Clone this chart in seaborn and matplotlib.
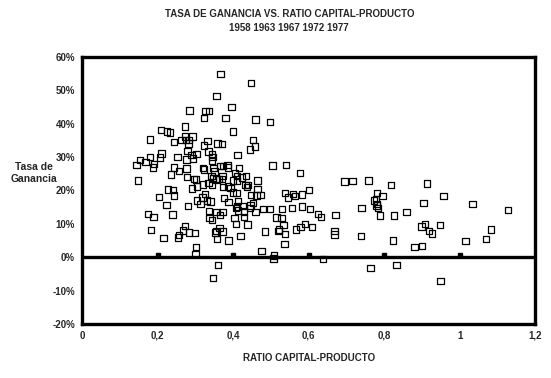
import pandas as pd
import seaborn as sns
import matplotlib.pyplot as plt

sns.set_style('white')
plt.rcParams['font.family'] = ['Liberation Sans', 'DejaVu Sans']

# datos (ratio capital-producto, tasa de ganancia en %)
ratio = [
    0.3665, 0.4467, 0.3559, 0.3956, 0.2844, 0.3268, 0.3368, 0.3223, 0.3797, 0.4592,
    0.4970, 0.2727, 0.3998, 0.2084, 0.2251, 0.2330, 0.1793, 0.2428, 0.2632, 0.2746,
    0.2833, 0.2923, 0.2719, 0.2817, 0.3320, 0.3223, 0.3585, 0.3699, 0.4528, 0.4573,
    0.4449, 0.2791, 0.3347, 0.3440, 0.3453, 0.4115, 0.2103, 0.1806, 0.2058, 0.2526,
    0.2897, 0.3029, 0.2939, 0.2764, 0.1536, 0.1679, 0.1440, 0.1907, 0.1880, 0.1483,
    0.2031, 0.2275, 0.2410, 0.2428, 0.2436, 0.2568, 0.2356, 0.2764, 0.2772, 0.2966,
    0.3016, 0.2905, 0.3045, 0.3196, 0.3231, 0.3479, 0.3505, 0.3646, 0.3734, 0.3853,
    0.3871, 0.3427, 0.3469, 0.3559, 0.3633, 0.3712, 0.3204, 0.3347, 0.3442, 0.3717,
    0.4056, 0.4096, 0.4162, 0.3998, 0.4104, 0.4236, 0.4348, 0.4645, 0.5042, 0.5389,
    0.5765, 0.3739, 0.3871, 0.3930, 0.4327, 0.4387, 0.4369, 0.4645, 0.5367, 0.5579,
    0.5640, 0.5817, 0.6011, 0.5446, 0.3998, 0.4088, 0.4475, 0.4618, 0.4726, 0.3257,
    0.3188, 0.3050, 0.3135, 0.3310, 0.3400, 0.3752, 0.3876, 0.4130, 0.2799, 0.2235,
    0.4104, 0.4263, 0.4459, 0.4528, 0.3362, 0.3559, 0.3717, 0.3646, 0.4069, 0.4130,
    0.4289, 0.4440, 0.4591, 0.4792, 0.4970, 0.5287, 0.5552, 0.5822, 0.2393, 0.1745,
    0.1893, 0.3373, 0.3442, 0.4035, 0.4289, 0.5147, 0.5279, 0.1824, 0.2158, 0.2724,
    0.2671, 0.2825, 0.2984, 0.2534, 0.2568, 0.3522, 0.3559, 0.3638, 0.3717, 0.3567,
    0.3879, 0.4077, 0.4379, 0.4197, 0.4850, 0.5200, 0.5203, 0.5375, 0.5332, 0.5653,
    0.5782, 0.5904, 0.5361, 0.3018, 0.3005, 0.4750, 0.5075, 0.5070, 0.3593, 0.3468,
    0.6029, 0.6241, 0.6320, 0.6090, 0.6709, 0.6683, 0.6683, 0.6947, 0.7159, 0.7583,
    0.8181, 0.9134, 0.7811, 0.7954, 0.7723, 0.7776, 0.7811, 0.7795, 0.7829, 0.7397,
    0.7890, 0.8261, 0.8589, 0.9039, 0.9568, 1.0336, 1.1263, 0.7387, 0.8986, 0.9081,
    0.9187, 0.9267, 0.9478, 1.0813, 1.0688, 1.0151, 0.8234, 0.8801, 0.9002, 0.6381,
    0.7636, 0.8324, 0.9489, 0.3434,
]
tasa = [
    54.9, 52.3, 48.4, 45.1, 44.0, 43.9, 43.9, 41.8, 41.8, 41.3,
    40.6, 39.2, 37.7, 38.2, 37.7, 37.4, 35.3, 34.5, 35.2, 35.1,
    35.1, 36.2, 36.2, 34.1, 34.9, 33.5, 34.1, 34.0, 35.2, 33.2,
    32.3, 31.9, 31.7, 31.0, 30.0, 30.7, 31.1, 30.1, 29.9, 30.1,
    30.7, 31.0, 29.6, 29.3, 29.2, 28.5, 27.6, 27.9, 26.9, 23.0,
    18.0, 20.3, 20.1, 18.5, 26.9, 25.8, 24.8, 26.6, 24.0, 23.5,
    23.3, 20.6, 21.2, 26.7, 26.3, 26.7, 25.7, 27.4, 27.3, 27.6,
    26.9, 24.3, 23.6, 23.3, 23.5, 23.4, 21.8, 22.2, 21.8, 24.3,
    25.2, 24.3, 26.7, 23.0, 22.8, 23.9, 24.3, 23.0, 27.5, 27.6,
    25.2, 21.1, 21.2, 20.8, 21.7, 21.6, 21.0, 20.4, 19.2, 19.0,
    18.3, 18.8, 20.2, 17.9, 19.4, 19.3, 18.7, 18.5, 18.6, 19.0,
    17.9, 17.0, 15.9, 17.0, 16.7, 17.8, 16.5, 16.9, 15.3, 15.7,
    15.2, 15.3, 15.5, 16.2, 13.9, 13.5, 13.5, 12.7, 14.7, 14.0,
    13.7, 14.7, 13.5, 14.5, 14.5, 14.5, 14.7, 15.2, 12.8, 13.0,
    12.0, 11.8, 11.1, 11.7, 12.0, 11.9, 11.7, 8.1, 5.7, 9.3,
    8.0, 7.4, 7.3, 5.9, 6.6, 7.4, 7.9, 8.7, 7.7, 5.5,
    5.0, 9.9, 9.8, 6.4, 7.7, 7.9, 8.3, 7.0, 9.6, 8.3,
    9.0, 9.9, 3.9, 3.0, 1.0, 1.8, 0.5, -0.4, -2.3, -6.2,
    14.4, 13.0, 12.0, 9.1, 12.6, 7.8, 6.8, 22.7, 22.8, 23.0,
    21.6, 22.1, 19.2, 18.3, 17.0, 17.5, 16.0, 15.5, 14.8, 14.7,
    12.5, 12.5, 13.5, 16.2, 18.3, 15.9, 14.1, 6.4, 9.2, 9.9,
    7.8, 7.1, 9.6, 8.3, 5.4, 4.8, 5.0, 3.0, 3.3, -0.6,
    -3.2, -2.3, -7.2, 28.8,
]

x_ticks = [0, 0.2, 0.4, 0.6, 0.8, 1.0, 1.2]
x_labels = ['0', '0,2', '0,4', '0,6', '0,8', '1', '1,2']
y_ticks = [-20, -10, 0, 10, 20, 30, 40, 50, 60]
y_labels = ['-20%', '-10%', '0%', '10%', '20%', '30%', '40%', '50%', '60%']

df = pd.DataFrame({'ratio': ratio, 'tasa': tasa})

fig = plt.figure(figsize=(5.51, 3.78), dpi=100)
ax = fig.add_axes([0.1488, 0.1429, 0.823, 0.7063])

sns.scatterplot(data=df, x='ratio', y='tasa', ax=ax, marker='s', s=20,
                facecolor='none', edgecolor='black', linewidth=0.9, zorder=3)

# linea del cero con marcas
ax.axhline(0, color='black', linewidth=2.4, zorder=2)
ax.plot(x_ticks[1:-1], [0.6] * 5, linestyle='none', marker='s', ms=2.2,
        color='black', zorder=2)

ax.set_xlim(0, 1.2)
ax.set_ylim(-20, 60)
ax.set_xticks(x_ticks)
ax.set_xticklabels(x_labels)
ax.set_yticks(y_ticks)
ax.set_yticklabels(y_labels)
ax.tick_params(axis='x', length=0, pad=5, labelsize=7)
ax.tick_params(axis='y', length=3, width=1, direction='out', pad=2, labelsize=7)
for lab in ax.get_xticklabels() + ax.get_yticklabels():
    lab.set_fontweight('bold')

for sp in ax.spines.values():
    sp.set_linewidth(2.4)
    sp.set_color('black')

ax.set_xlabel('RATIO CAPITAL-PRODUCTO', fontsize=7, fontweight='bold', labelpad=9)
ax.set_ylabel('')
fig.text(0.062, 0.543, 'Tasa de\nGanancia', ha='center', va='center',
         fontsize=7.5, fontweight='bold', linespacing=1.25)

fig.text(0.525, 0.962, 'TASA DE GANANCIA VS. RATIO CAPITAL-PRODUCTO',
         ha='center', va='center', fontsize=7, fontweight='bold')
fig.text(0.525, 0.927, '1958 1963 1967 1972 1977',
         ha='center', va='center', fontsize=7, fontweight='bold')

fig.savefig('out.png', dpi=100)
